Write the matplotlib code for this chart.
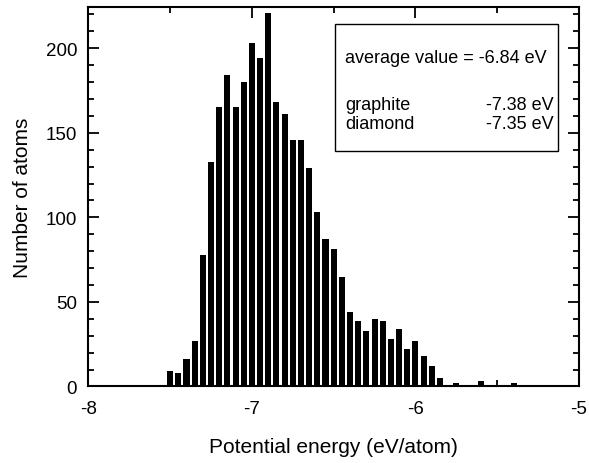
import numpy as np
import matplotlib.pyplot as plt
from matplotlib.ticker import MultipleLocator

plt.rcParams['font.family'] = ['Liberation Sans', 'DejaVu Sans']
plt.rcParams['axes.unicode_minus'] = False

# bin centres (eV/atom) and counts
energy = [-7.55, -7.50, -7.45, -7.40, -7.35, -7.30, -7.25, -7.20, -7.15, -7.10,
          -7.05, -7.00, -6.95, -6.90, -6.85, -6.80, -6.75, -6.70, -6.65, -6.60,
          -6.55, -6.50, -6.45, -6.40, -6.35, -6.30, -6.25, -6.20, -6.15, -6.10,
          -6.05, -6.00, -5.95, -5.90, -5.85, -5.80, -5.75, -5.70, -5.65, -5.60,
          -5.55, -5.50, -5.45, -5.40, -5.35]
counts = [1, 9, 8, 16, 27, 78, 133, 165, 184, 165,
          180, 203, 194, 221, 168, 161, 146, 146, 129, 103,
          87, 81, 65, 44, 39, 33, 40, 39, 28, 34,
          22, 27, 18, 12, 5, 1, 2, 1, 1, 3,
          1, 0, 0, 2, 1]

avg_text = "average value = -6.84 eV"
phases = ["graphite", "diamond"]
phase_vals = ["-7.38 eV", "-7.35 eV"]

fig = plt.figure(figsize=(5.89, 4.64), dpi=100)
ax = fig.add_axes([0.150, 0.165, 0.833, 0.818])

ax.bar(energy, counts, width=0.037, color='black', align='center')

ax.set_xlim(-8, -5)
ax.set_ylim(0, 224.5)
ax.xaxis.set_major_locator(MultipleLocator(1))
ax.xaxis.set_minor_locator(MultipleLocator(0.5))
ax.yaxis.set_major_locator(MultipleLocator(50))
ax.yaxis.set_minor_locator(MultipleLocator(10))
ax.tick_params(which='both', direction='in', top=True, right=True, width=1.3)
ax.tick_params(which='major', length=8, labelsize=13.5)
ax.tick_params(which='minor', length=4)
ax.tick_params(axis='x', which='major', pad=10)
ax.tick_params(axis='y', which='major', pad=8)
for s in ax.spines.values():
    s.set_linewidth(1.5)

ax.set_xlabel("Potential energy (eV/atom)", fontsize=15, labelpad=14)
ax.set_ylabel("Number of atoms", fontsize=15, labelpad=10)

# info box
ax.add_patch(plt.Rectangle((0.5025, 0.619), 0.454, 0.336, transform=ax.transAxes,
                           fill=False, lw=1.0, color='black', zorder=5))
ax.text(0.523, 0.866, avg_text, transform=ax.transAxes, fontsize=13, va='center')
for i, (name, val) in enumerate(zip(phases, phase_vals)):
    y = 0.742 - i * 0.048
    ax.text(0.523, y, name, transform=ax.transAxes, fontsize=13, va='center')
    ax.text(0.949, y, val, transform=ax.transAxes, fontsize=13, va='center', ha='right')

fig.savefig("out.png", dpi=100)
